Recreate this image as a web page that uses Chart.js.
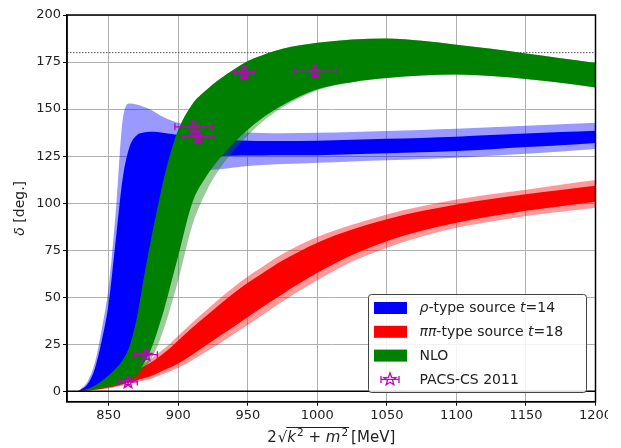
<!DOCTYPE html>
<html>
<head>
<meta charset="utf-8">
<script src="https://cdn.jsdelivr.net/npm/chart.js@4.4.1/dist/chart.umd.min.js"></script>
<style>
  html, body { margin: 0; padding: 0; background: #fff; }
  #wrap { width: 621px; height: 448px; }
</style>
</head>
<body>
<div id="wrap"><canvas id="chart" width="621" height="448"></canvas></div>
<script>
// energy grid [MeV] shared by all bands
const energy = [828, 835, 840, 845, 850, 855, 860, 865, 870, 875, 880, 885, 890, 895, 900,
  910, 920, 930, 940, 950, 960, 975, 1000, 1025, 1050, 1075, 1100, 1125, 1150, 1175, 1200];

// rho-type source t=14 (outer = light, inner = dark)
const rhoOuterLow = [0, 0.8, 2, 3, 4.5, 6, 8, 10.5, 15, 25, 38, 55, 72, 88, 100,
  112, 117, 118, 119, 119.8, 120.3, 120.8, 121.5, 122.2, 122.8, 123.5, 124.2, 125.2, 126.3, 127.5, 128.8];
const rhoInnerLow = [0, 1, 2.5, 4, 5.5, 7, 9, 12, 18, 30, 45, 62, 80, 95, 108,
  120, 124, 125, 125.2, 125.3, 125.4, 125.5, 125.5, 126, 126.5, 127, 127.7, 128.7, 129.8, 130.8, 132];
const rhoInnerHigh = [0, 4, 12, 27, 47, 80, 113, 130, 136, 137.6, 138, 137.8, 137.3, 136.8, 136.3,
  135.5, 134.7, 134, 133.5, 133.2, 133, 133, 133.2, 133.7, 134.2, 134.7, 135.3, 136.2, 137, 137.8, 138.5];
const rhoOuterHigh = [0, 5.5, 15, 33, 56, 95, 144, 153, 152.5, 151.2, 149.8, 147.5, 145.5, 144, 142.7,
  140.8, 139.4, 138.5, 137.9, 137.5, 137.3, 137.2, 137.4, 137.8, 138.3, 138.9, 139.5, 140.3, 141.2, 142, 142.8];

// pipi-type source t=18
const pipiOuterLow = [0, 0.3, 0.6, 1, 1.5, 2.2, 3, 3.9, 4.8, 5.7, 6.6, 8, 9.5, 11, 12.5,
  16.5, 21, 25.5, 30.5, 35.2, 40.3, 47.8, 59, 69, 76.3, 82.3, 86.9, 90.2, 93.2, 95.5, 97.6];
const pipiInnerLow = [0, 0.4, 0.9, 1.4, 2, 2.9, 3.8, 4.8, 5.8, 6.9, 8, 9.6, 11.3, 13, 14.8,
  19.5, 24.5, 29.5, 34.5, 39.5, 44.5, 51.8, 63, 72.5, 79.8, 85.3, 89.6, 93, 96, 98.4, 100.7];
const pipiInnerHigh = [0, 1.1, 2.3, 3.4, 4.5, 6, 7.7, 9.5, 11.3, 13.2, 15.2, 17.7, 20.5, 23.6, 27,
  33.8, 40, 46.3, 52.3, 57.7, 62.5, 69.5, 79, 86, 91.5, 95.8, 99.3, 102.2, 104.8, 107, 109.2];
const pipiOuterHigh = [0, 1.3, 2.6, 3.8, 5, 6.7, 8.5, 10.5, 12.5, 14.7, 17, 19.8, 22.8, 26, 29.5,
  36.5, 43, 49.5, 55.5, 61, 66, 73, 82, 88.5, 94, 98.3, 102, 104.8, 107.2, 109.8, 112.3];

// NLO
const nloOuterLow = [0, 0.5, 1, 1.5, 2.2, 2.9, 3.7, 5, 7, 11, 16.5, 24, 34, 46, 59,
  88, 106, 118.5, 128, 136, 143, 151, 160, 164.3, 166.5, 167.8, 168.4, 167.6, 166, 164, 161.5];
const nloInnerLow = [0, 0.7, 1.3, 2, 2.8, 3.5, 4.5, 6.2, 9, 14.5, 21.5, 32, 44, 58, 72,
  100, 114, 124, 132, 139, 145, 152, 160.5, 164.3, 166.5, 167.8, 168.4, 167.6, 166, 164, 161.5];
const nloHigh = [0, 1.3, 3, 5.5, 8.5, 12, 16.5, 24, 38, 59, 79, 97, 114, 128, 139,
  152.5, 160, 166, 171, 175.5, 178.5, 182, 185.2, 187, 187.5, 186.3, 184.2, 182, 179.5, 177, 174.5];

// PACS-CS 2011
const pacsEnergy = [863.9, 876.8, 911, 914.5, 947.5, 998.2];
const pacsDelta = [5.0, 19.5, 140.6, 135.3, 169.4, 170.2];
const pacsEnergyErr = [6.6, 8.2, 13.4, 11, 7, 15];
const pacsDeltaErr = [1.5, 2.5, 3, 3, 3, 3];

const xRange = [820, 1200];
const yRange = [-5.5, 200];
const xTickValues = [850, 900, 950, 1000, 1050, 1100, 1150, 1200];
const yTickValues = [0, 25, 50, 75, 100, 125, 150, 175, 200];
const unitarityLimit = 180;

const PACS_COLOR = '#bf00bf';
const FONT = "'DejaVu Sans', sans-serif";

Chart.defaults.font.family = FONT;

function pts(ys) {
  return energy.map((e, i) => ({ x: e, y: ys[i] }));
}

function edge(ys, order) {
  return {
    data: pts(ys), order,
    borderColor: 'rgba(0,0,0,0)', borderWidth: 0, pointRadius: 0,
    fill: false, cubicInterpolationMode: 'monotone'
  };
}

function cover(ys, color, order) {
  return {
    data: pts(ys), order,
    borderColor: 'rgba(0,0,0,0)', borderWidth: 0, pointRadius: 0,
    fill: '-1', backgroundColor: color, cubicInterpolationMode: 'monotone'
  };
}

function makeStar() {
  let c = document.createElement('canvas');
  c.width = 16; c.height = 16;
  let g = c.getContext('2d');
  g.strokeStyle = PACS_COLOR;
  g.lineWidth = 1.3;
  g.beginPath();
  for (let k = 0; k < 10; k++) {
    let r = k % 2 === 0 ? 6.5 : 2.7;
    let a = -Math.PI / 2 + k * Math.PI / 5;
    let px = 8 + r * Math.cos(a), py = 8.5 + r * Math.sin(a);
    if (k === 0) g.moveTo(px, py); else g.lineTo(px, py);
  }
  g.closePath();
  g.stroke();
  return c;
}
const starImg = makeStar();

function drawRuns(ctx, runs, x, y) {
  for (let r of runs) {
    ctx.font = r.font;
    ctx.fillText(r.t, x, y + (r.dy || 0));
    x += ctx.measureText(r.t).width + (r.gap || 0);
  }
  return x;
}

function runsWidth(ctx, runs) {
  let w = 0;
  for (let r of runs) {
    ctx.font = r.font;
    w += ctx.measureText(r.t).width + (r.gap || 0);
  }
  return w;
}

const errorBars = {
  id: 'errorBars',
  afterDatasetsDraw(chart) {
    let xs = chart.scales.x, ys = chart.scales.y, ctx = chart.ctx;
    ctx.save();
    ctx.strokeStyle = PACS_COLOR;
    ctx.lineWidth = 1.3;
    pacsEnergy.forEach((e, i) => {
      let px = xs.getPixelForValue(e), py = ys.getPixelForValue(pacsDelta[i]);
      let x0 = xs.getPixelForValue(e - pacsEnergyErr[i]);
      let x1 = xs.getPixelForValue(e + pacsEnergyErr[i]);
      let y0 = ys.getPixelForValue(pacsDelta[i] - pacsDeltaErr[i]);
      let y1 = ys.getPixelForValue(pacsDelta[i] + pacsDeltaErr[i]);
      ctx.beginPath();
      ctx.moveTo(x0, py); ctx.lineTo(x1, py);
      ctx.moveTo(x0, py - 3.5); ctx.lineTo(x0, py + 3.5);
      ctx.moveTo(x1, py - 3.5); ctx.lineTo(x1, py + 3.5);
      ctx.moveTo(px, y0); ctx.lineTo(px, y1);
      ctx.moveTo(px - 3, y0); ctx.lineTo(px + 3, y0);
      ctx.moveTo(px - 3, y1); ctx.lineTo(px + 3, y1);
      ctx.stroke();
    });
    ctx.restore();
  }
};

const frame = {
  id: 'frame',
  afterDatasetsDraw(chart) {
    let a = chart.chartArea, ctx = chart.ctx;
    ctx.save();
    ctx.strokeStyle = '#000';
    ctx.lineWidth = 1.5;
    ctx.strokeRect(a.left, a.top, a.right - a.left, a.bottom - a.top);
    ctx.restore();
  }
};

const legendRows = [
  { color: '#0000ff', runs: [{ t: 'ρ', it: true }, { t: '-type source ' }, { t: 't', it: true }, { t: '=14' }] },
  { color: '#ff0000', runs: [{ t: 'ππ', it: true }, { t: '-type source ' }, { t: 't', it: true }, { t: '=18' }] },
  { color: '#008000', runs: [{ t: 'NLO' }] },
  { marker: true, runs: [{ t: 'PACS-CS 2011' }] }
];

const mplLegend = {
  id: 'mplLegend',
  afterDraw(chart) {
    let ctx = chart.ctx;
    ctx.save();
    let bx = 368.5, by = 294.5, bw = 218, bh = 98;
    ctx.beginPath();
    ctx.roundRect(bx, by, bw, bh, 3);
    ctx.fillStyle = 'rgba(255,255,255,0.85)';
    ctx.fill();
    ctx.strokeStyle = '#444';
    ctx.lineWidth = 1;
    ctx.stroke();
    legendRows.forEach((row, i) => {
      let cy = 308 + i * 23.8;
      if (row.marker) {
        ctx.strokeStyle = PACS_COLOR;
        ctx.lineWidth = 1.3;
        ctx.beginPath();
        ctx.moveTo(381, cy); ctx.lineTo(399, cy);
        ctx.moveTo(381, cy - 3.5); ctx.lineTo(381, cy + 3.5);
        ctx.moveTo(399, cy - 3.5); ctx.lineTo(399, cy + 3.5);
        ctx.stroke();
        ctx.drawImage(starImg, 390 - 8, cy - 8.5);
      } else {
        ctx.fillStyle = row.color;
        ctx.fillRect(374, cy - 6, 33, 12);
      }
      ctx.fillStyle = '#222';
      ctx.textBaseline = 'middle';
      let runs = row.runs.map(r => ({ t: r.t, font: (r.it ? 'italic ' : '') + '14px ' + FONT }));
      drawRuns(ctx, runs, 419.5, cy + 0.5);
    });
    ctx.restore();
  }
};

const axisTitles = {
  id: 'axisTitles',
  afterDraw(chart) {
    let ctx = chart.ctx, a = chart.chartArea;
    ctx.save();
    ctx.fillStyle = '#222';
    ctx.textBaseline = 'alphabetic';
    // x title: 2 sqrt(k^2 + m^2) [MeV]
    let f = '15px ' + FONT, fi = 'italic 15px ' + FONT, fs = '10.5px ' + FONT;
    let head = [{ t: '2', font: f, gap: 1 }, { t: '√', font: f }];
    let inner = [{ t: 'k', font: fi, gap: 1 }, { t: '2', font: fs, dy: -6 }, { t: ' + ', font: f },
      { t: 'm', font: fi, gap: 1 }, { t: '2', font: fs, dy: -6 }];
    let tail = [{ t: '[MeV]', font: f, gap: 0 }];
    let total = runsWidth(ctx, head) + runsWidth(ctx, inner) + 3 + runsWidth(ctx, tail);
    let x = (a.left + a.right) / 2 - total / 2;
    let base = 442;
    x = drawRuns(ctx, head, x, base);
    let ox = x;
    x = drawRuns(ctx, inner, x, base);
    ctx.strokeStyle = '#222';
    ctx.lineWidth = 1.1;
    ctx.beginPath();
    ctx.moveTo(ox - 1, base - 14.5);
    ctx.lineTo(x + 1, base - 14.5);
    ctx.stroke();
    drawRuns(ctx, tail, x + 3, base);
    // y title
    ctx.translate(20, (a.top + a.bottom) / 2);
    ctx.rotate(-Math.PI / 2);
    ctx.textBaseline = 'middle';
    let yr = [{ t: 'δ', font: 'italic 14px ' + FONT }, { t: ' [deg.]', font: '14px ' + FONT }];
    drawRuns(ctx, yr, -runsWidth(ctx, yr) / 2, 0);
    ctx.restore();
    // figure is cropped on the right just past the last tick label
    ctx.save();
    ctx.fillStyle = '#fff';
    ctx.fillRect(608, a.bottom + 3, 13, 448 - a.bottom - 3);
    ctx.restore();
  }
};

const datasets = [
  { data: xRange.map(v => ({ x: v, y: unitarityLimit })), order: 100, borderColor: '#555',
    borderWidth: 1, borderDash: [1.5, 1.5], pointRadius: 0, fill: false },
  edge(rhoOuterLow, 90), cover(rhoOuterHigh, 'rgba(0,0,255,0.4)', 90),
  edge(rhoInnerLow, 80), cover(rhoInnerHigh, '#0000ff', 80),
  edge(pipiOuterLow, 70), cover(pipiOuterHigh, 'rgba(255,0,0,0.4)', 70),
  edge(pipiInnerLow, 60), cover(pipiInnerHigh, '#ff0000', 60),
  edge(nloOuterLow, 50), cover(nloHigh, 'rgba(0,128,0,0.4)', 50),
  edge(nloInnerLow, 40), cover(nloHigh, '#008000', 40),
  { data: xRange.map(v => ({ x: v, y: 0 })), order: 10, borderColor: '#000',
    borderWidth: 1.5, pointRadius: 0, fill: false },
  { data: pacsEnergy.map((e, i) => ({ x: e, y: pacsDelta[i] })), order: 0, showLine: false,
    pointStyle: starImg, pointRadius: 7, fill: false }
];

new Chart(document.getElementById('chart'), {
  type: 'line',
  data: { datasets },
  plugins: [frame, errorBars, mplLegend, axisTitles],
  options: {
    responsive: false,
    animation: false,
    devicePixelRatio: 1,
    layout: { padding: { left: 0, right: 25.5, top: 15, bottom: 0 } },
    plugins: { legend: { display: false }, tooltip: { enabled: false }, filler: { propagate: false } },
    scales: {
      x: {
        type: 'linear', min: xRange[0], max: xRange[1],
        afterBuildTicks: s => { s.ticks = xTickValues.map(v => ({ value: v })); },
        afterFit: s => { s.height = 46.3; },
        ticks: { font: { size: 13 }, color: '#222', padding: 2, maxRotation: 0, callback: v => String(v) },
        grid: { color: '#b0b0b0', lineWidth: 1, tickColor: '#000', tickLength: 4, tickWidth: 1 },
        border: { color: '#000', width: 1.5 }
      },
      y: {
        type: 'linear', min: yRange[0], max: yRange[1],
        afterBuildTicks: s => { s.ticks = yTickValues.map(v => ({ value: v })); },
        afterFit: s => { s.width = 67; },
        ticks: { font: { size: 13 }, color: '#222', padding: 2, callback: v => String(v) },
        grid: { color: '#b0b0b0', lineWidth: 1, tickColor: '#000', tickLength: 4, tickWidth: 1 },
        border: { color: '#000', width: 1.5 }
      }
    }
  }
});
</script>
</body>
</html>
